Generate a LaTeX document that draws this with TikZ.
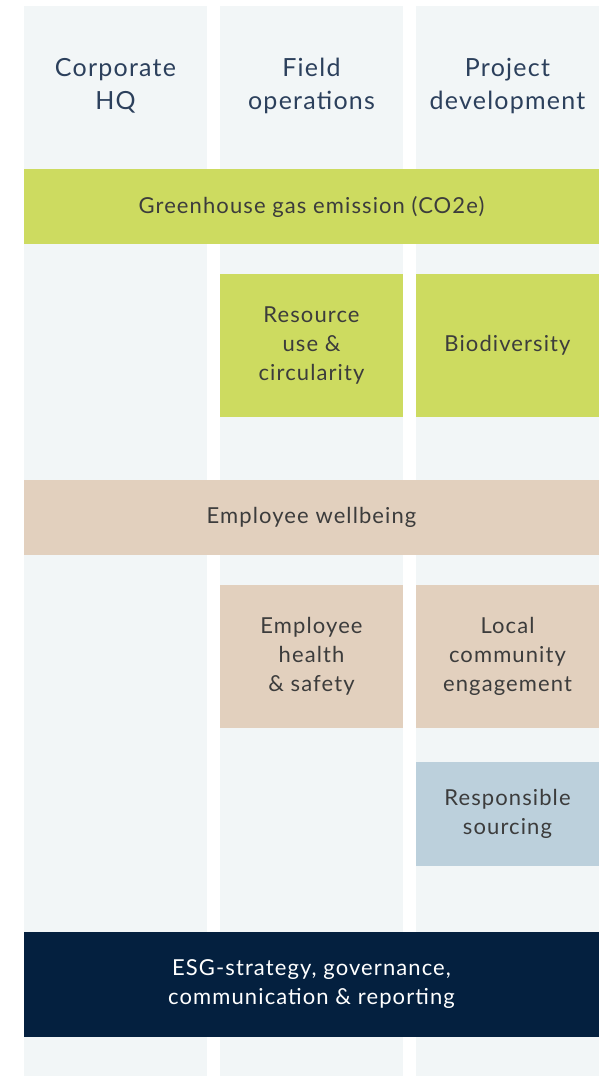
\documentclass[tikz,border=0pt]{standalone}
\usepackage{fontspec}
\setmainfont{Lato}[LetterSpace=5]
\usepackage{tikz}
\usetikzlibrary{positioning, calc}
\definecolor{colonne}{HTML}{F2F6F7}
\definecolor{vert}{HTML}{CDDB60}
\definecolor{beige}{HTML}{E2D0BE}
\definecolor{bleu}{HTML}{BCD0DC}
\definecolor{marine}{HTML}{04203F}
\definecolor{titre}{HTML}{2C405C}
\definecolor{texte}{HTML}{3C3C3C}

\begin{document}
\begin{tikzpicture}[x=1pt,y=-1pt]
\tikzstyle{colonne}=[fill=colonne,inner sep=0pt,minimum width=183pt,minimum height=1070pt,anchor=north]
\tikzstyle{entete}=[align=center,text=titre,font=\fontsize{25}{33}\selectfont]
\tikzstyle{bande}=[inner sep=0pt,minimum width=575pt,align=center,font=\fontsize{22}{29}\selectfont,text=texte]
\tikzstyle{boite}=[inner sep=0pt,minimum width=183pt,align=center,font=\fontsize{22}{29}\selectfont,text=texte]
\def\ColA{115.5}
\def\ColB{311.5}
\def\ColC{507.5}
\useasboundingbox (0,0) rectangle (605,1076);
% colonnes
\node[colonne] (HQ) at (\ColA,6) {};
\node[colonne] (Terrain) at (\ColB,6) {};
\node[colonne] (Projet) at (\ColC,6) {};
\node[entete] (tHQ) at (\ColA,86) {Corporate\\HQ};
\node[entete] (tTerrain) at (\ColB,86) {Field\\operations};
\node[entete] (tProjet) at (\ColC,86) {Project\\development};
% environnement
\node[bande,fill=vert,minimum height=75pt] (GES) at (\ColB,206.5) {\raisebox{-2pt}{Greenhouse gas emission (CO2e)}};
\node[boite,fill=vert,minimum height=143pt] (Ressource) at (\ColB,345.5) {Resource\\use \&\\circularity};
\node[boite,fill=vert,minimum height=143pt] (Biodiv) at (\ColC,345.5) {\raisebox{-2pt}{Biodiversity}};
% social
\node[bande,fill=beige,minimum height=75pt] (Bienetre) at (\ColB,517.5) {\raisebox{-2pt}{Employee wellbeing}};
\node[boite,fill=beige,minimum height=143pt] (Sante) at (\ColB,656.5) {Employee\\health\\\& safety};
\node[boite,fill=beige,minimum height=143pt] (Local) at (\ColC,656.5) {Local\\community\\engagement};
\node[boite,fill=bleu,minimum height=104pt] (Achats) at (\ColC,814) {Responsible\\sourcing};
% gouvernance
\node[bande,fill=marine,text=white,minimum height=105pt] (ESG) at (\ColB,984.5) {ESG-strategy, governance,\\communication \& reporting};
\end{tikzpicture}
\end{document}
